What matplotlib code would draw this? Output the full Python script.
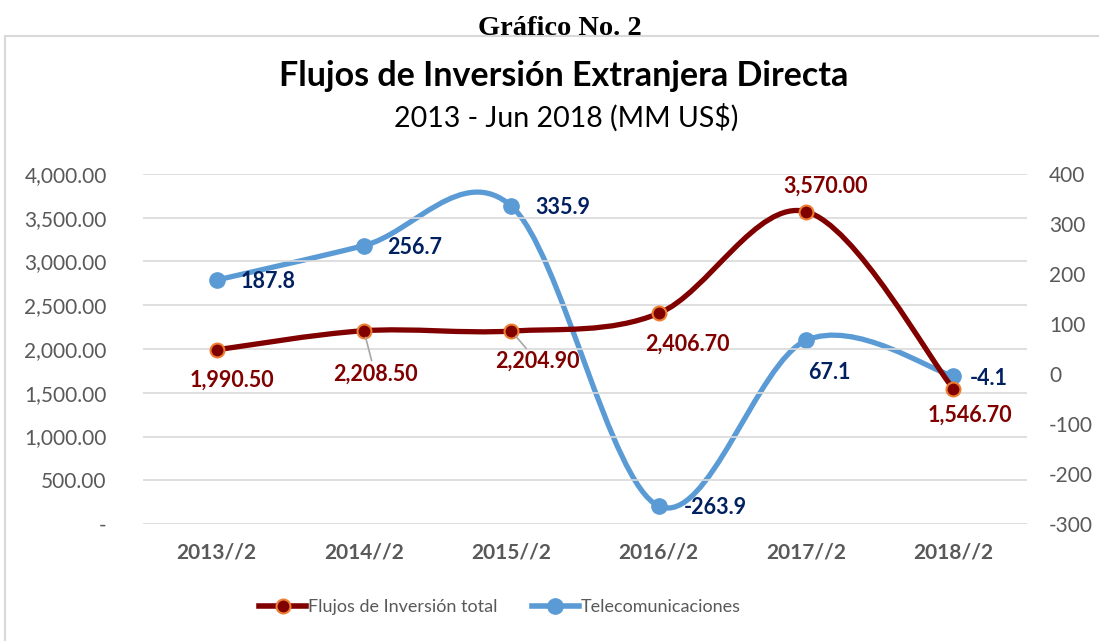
import matplotlib
matplotlib.use("Agg")
import matplotlib.pyplot as plt
import numpy as np
from matplotlib.path import Path
from matplotlib.patches import PathPatch, Rectangle
from matplotlib.lines import Line2D

categories = ["2013//2", "2014//2", "2015//2", "2016//2", "2017//2", "2018//2"]
flujos_total = [1990.50, 2208.50, 2204.90, 2406.70, 3570.00, 1546.70]
telecom = [187.8, 256.7, 335.9, -263.9, 67.1, -4.1]
left_ticks = [0, 500, 1000, 1500, 2000, 2500, 3000, 3500, 4000]
right_ticks = [-300, -200, -100, 0, 100, 200, 300, 400]

RED = "#800000"
ORANGE = "#ED7D31"
BLUE = "#5B9BD5"
NAVY = "#002060"
GRAY = "#595959"
FONT = "Lato"

plt.rcParams["font.family"] = [FONT, "DejaVu Sans"]

fig = plt.figure(figsize=(10.99, 6.41), dpi=100)
fig.patches.append(Rectangle((0.005, -0.01), 1.0, 0.954, transform=fig.transFigure,
                             fill=False, edgecolor="#D9D9D9", lw=1.5))

fig.text(0.509, 0.955, "Gráfico No. 2", ha="center", va="center",
         family="Liberation Serif", fontweight="bold", fontsize=20.5)
fig.text(0.513, 0.881, "Flujos de Inversión Extranjera Directa", ha="center", va="center",
         fontweight="bold", fontsize=24.5, color="black")
fig.text(0.515, 0.817, "2013 - Jun 2018 (MM US$)", ha="center", va="center",
         fontsize=20.5, color="black")

ax = fig.add_axes([0.130, 0.1825, 0.8045, 0.5461])
ax2 = ax.twinx()

x = np.arange(len(categories))


def smooth_path(xs, ys):
    xs = np.asarray(xs, float)
    ys = np.asarray(ys, float)
    n = len(xs)
    verts = [(xs[0], ys[0])]
    codes = [Path.MOVETO]
    for i in range(n - 1):
        p0 = i - 1 if i > 0 else i
        p3 = i + 2 if i + 2 < n else i + 1
        c1 = (xs[i] + (xs[i + 1] - xs[p0]) / 6, ys[i] + (ys[i + 1] - ys[p0]) / 6)
        c2 = (xs[i + 1] - (xs[p3] - xs[i]) / 6, ys[i + 1] - (ys[p3] - ys[i]) / 6)
        verts += [c1, c2, (xs[i + 1], ys[i + 1])]
        codes += [Path.CURVE4] * 3
    return Path(verts, codes)


ax.add_patch(PathPatch(smooth_path(x, flujos_total), fill=False, edgecolor=RED,
                       lw=3.8, capstyle="round", joinstyle="round", zorder=3))
ax.plot(x, flujos_total, ls="none", marker="o", ms=10, mfc=RED, mec=ORANGE, mew=1.5, zorder=4)

ax2.add_patch(PathPatch(smooth_path(x, telecom), fill=False, edgecolor=BLUE,
                        lw=3.8, capstyle="round", joinstyle="round", zorder=3))
ax2.plot(x, telecom, ls="none", marker="o", ms=11, mfc=BLUE, mec=BLUE, zorder=4)

ax.set_xlim(-0.5, len(categories) - 0.5)
ax.set_ylim(0, 4000)
ax2.set_ylim(-300, 400)
ax.set_yticks(left_ticks)
ax.set_yticklabels(["-" if v == 0 else f"{v:,.2f}" for v in left_ticks])
ax2.set_yticks(right_ticks)
ax2.set_yticklabels([str(v) for v in right_ticks])
ax.set_xticks(x)
ax.set_xticklabels(categories, fontweight="bold")

for a in (ax, ax2):
    for s in a.spines.values():
        s.set_visible(False)
    a.tick_params(length=0, labelsize=15, colors=GRAY)
ax.tick_params(axis="y", pad=26)
ax.tick_params(axis="x", pad=13)
ax2.tick_params(axis="y", pad=16)
ax.grid(axis="y", color="#D9D9D9", lw=1.2)
ax.set_axisbelow(True)
ax.set_zorder(ax2.get_zorder() + 1)
ax.patch.set_visible(False)

# data labels
red_offsets = [(11, -22), (8, -31), (19, -22), (21, -22), (14, 18), (12, -19)]
for i, (xi, v, off) in enumerate(zip(x, flujos_total, red_offsets)):
    leader = None
    if i in (1, 2):
        leader = dict(arrowstyle="-", color="#A6A6A6", lw=1.2, shrinkA=0, shrinkB=5)
    ax.annotate(f"{v:,.2f}", (xi, v), xytext=off, textcoords="offset points",
                ha="center", va="center", fontsize=15.5, fontweight="bold", color=RED,
                arrowprops=leader, zorder=5)

blue_offsets = [(17, -1), (17, -1), (17, -1), (18, -1), (17, -23), (12, -2)]
for i, (xi, v, off) in enumerate(zip(x, telecom, blue_offsets)):
    ha = "center" if i == 4 else "left"
    ax2.annotate(f"{v:.1f}", (xi, v), xytext=off, textcoords="offset points",
                 ha=ha, va="center", fontsize=15.5, fontweight="bold", color=NAVY, zorder=5)

handles = [
    Line2D([], [], color=RED, lw=4, marker="o", ms=10, mfc=RED, mec=ORANGE, mew=1.5),
    Line2D([], [], color=BLUE, lw=4, marker="o", ms=11, mfc=BLUE, mec=BLUE),
]
leg = fig.legend(handles, ["Flujos de Inversión total", "Telecomunicaciones"],
                 loc="center", bbox_to_anchor=(0.455, 0.053), ncol=2, frameon=False,
                 fontsize=13, handlelength=2.6, handletextpad=0.1, columnspacing=1.9)
for t in leg.get_texts():
    t.set_color(GRAY)

fig.savefig("out.png", dpi=100)
